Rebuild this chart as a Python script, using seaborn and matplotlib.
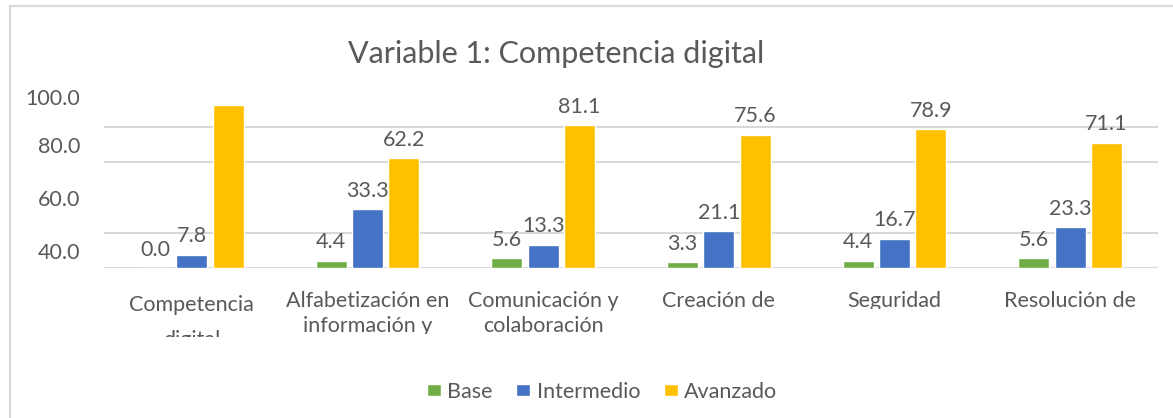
import textwrap
import pandas as pd
import matplotlib
matplotlib.use("Agg")
import matplotlib.pyplot as plt
import seaborn as sns
from matplotlib.patches import Rectangle
from matplotlib.transforms import Bbox, blended_transform_factory

# ------- data -------
categorias = [
    "Competencia digital",
    "Alfabetización en información y alfabetización de datos",
    "Comunicación y colaboración",
    "Creación de contenidos digitales",
    "Seguridad",
    "Resolución de problemas",
]
niveles = ["Base", "Intermedio", "Avanzado"]
base = [0.0, 4.4, 5.6, 3.3, 4.4, 5.6]
intermedio = [7.8, 33.3, 13.3, 21.1, 16.7, 23.3]
avanzado = [92.2, 62.2, 81.1, 75.6, 78.9, 71.1]
ytick_labels = ["40.0", "60.0", "80.0", "100.0"]
titulo = "Variable 1: Competencia digital"
# ---------------------------------------

colores = ["#70AD47", "#4472C4", "#FFC000"]
gris = "#595959"
linea = "#D9D9D9"

W, H = 1173, 418


def main():
    sns.set_theme(style="white")
    plt.rcParams["font.family"] = ["Lato", "DejaVu Sans"]

    df = pd.DataFrame({"categoria": categorias, "Base": base,
                       "Intermedio": intermedio, "Avanzado": avanzado})
    df_long = df.melt(id_vars="categoria", value_vars=niveles,
                      var_name="nivel", value_name="valor")

    fig = plt.figure(figsize=(W / 100, H / 100), dpi=100)
    ax = fig.add_axes([104 / W, (H - 268.3) / H, (1158 - 104) / W, 176.6 / H])

    sns.barplot(data=df_long, x="categoria", y="valor", hue="nivel",
                hue_order=niveles, palette=colores, saturation=1,
                width=0.62, gap=0.15, ax=ax)
    ax.get_legend().remove()

    ax.set_xlim(-0.5, len(categorias) - 0.5)
    ax.set_ylim(0, 100)
    sns.despine(ax=ax, left=True, bottom=True)

    # gridlines every 20, tick labels sit where the original put them
    ax.set_yticks([0, 20, 40, 60, 80], minor=True)
    ax.grid(which="minor", axis="y", color=linea, lw=1.5)
    ax.grid(which="major", visible=False)
    ax.set_yticks([10, 40, 70, 97])
    ax.set_yticklabels(ytick_labels)
    ax.tick_params(axis="y", which="both", length=0, pad=17,
                   labelsize=15.5, labelcolor=gris)
    ax.set_axisbelow(True)

    ax.set_xticks(range(len(categorias)))
    ax.set_xticklabels([])
    ax.tick_params(axis="x", length=0)
    ax.set_xlabel("")
    ax.set_ylabel("")

    # value labels (the one that falls outside the plot area is hidden)
    for cont in ax.containers:
        vals = cont.datavalues
        ax.bar_label(cont, labels=[f"{v:.1f}" if v < 90 else "" for v in vals],
                     padding=6, fontsize=15.5, color=gris)

    # category labels, wrapped and cut off like the original
    tr = blended_transform_factory(ax.transData, fig.transFigure)
    first_base = [311, 307, 307, 307, 307, 307]
    line_gap = [35, 25, 25, 25, 25, 25]
    clip_px = [337, 334, 341, 309, 309, 309]
    for i, cat in enumerate(categorias):
        for k, txt in enumerate(textwrap.wrap(cat, 17)):
            y_px = first_base[i] + k * line_gap[i]
            t = ax.text(i, 1 - y_px / H, txt, transform=tr, ha="center",
                        va="baseline", fontsize=15.5, color=gris, clip_on=True)
            t.set_clip_box(Bbox.from_extents(0, H - clip_px[i], W, H))

    fig.text(556 / W, 1 - 63 / H, titulo, ha="center", va="baseline",
             fontsize=22, color=gris)

    handles, labels = ax.get_legend_handles_labels()
    fig.legend(handles, labels, loc="center", bbox_to_anchor=(602 / W, 1 - 392 / H),
               ncol=3, frameon=False, fontsize=15.5, labelcolor=gris,
               handlelength=0.65, handleheight=0.5, handletextpad=0.3,
               columnspacing=1.1)

    # chart frame (right and bottom edges are outside the picture)
    fig.add_artist(Rectangle((9.5 / W, -0.1), 1.2, 1.1 - 6 / H, fill=False,
                             edgecolor=linea, lw=1.6, transform=fig.transFigure))

    fig.savefig("out.png", dpi=100)


if __name__ == "__main__":
    main()
